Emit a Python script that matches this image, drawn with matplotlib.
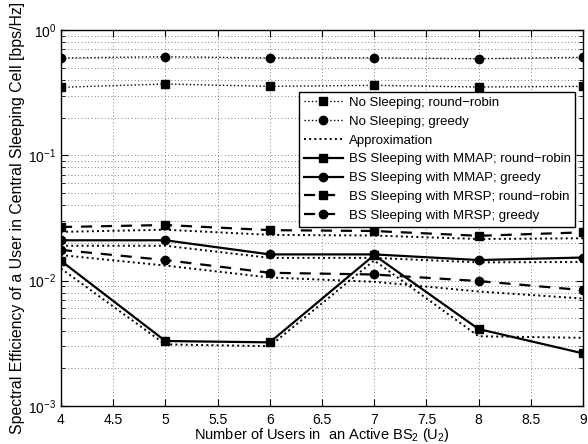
import matplotlib
matplotlib.use("Agg")
import matplotlib.pyplot as plt
from matplotlib.ticker import LogLocator, MultipleLocator, NullFormatter, FuncFormatter

plt.rcParams['font.family'] = ['Liberation Sans', 'DejaVu Sans']
plt.rcParams['mathtext.fontset'] = 'custom'
plt.rcParams['mathtext.rm'] = 'Liberation Sans'
plt.rcParams['mathtext.it'] = 'Liberation Sans'

users = [4, 5, 6, 7, 8, 9]
nosleep_rr = [0.349, 0.371, 0.355, 0.362, 0.351, 0.355]
nosleep_greedy = [0.598, 0.612, 0.598, 0.600, 0.590, 0.605]
mmap_rr = [0.0144, 0.0033, 0.00322, 0.0160, 0.00411, 0.00263]
mmap_greedy = [0.0210, 0.0210, 0.0162, 0.0162, 0.0146, 0.0153]
mrsp_rr = [0.0268, 0.0278, 0.0253, 0.0249, 0.0228, 0.0243]
mrsp_greedy = [0.0176, 0.0146, 0.01156, 0.0112, 0.00993, 0.0084]
approx_mmap_rr = [0.0125, 0.0031, 0.0030, 0.0145, 0.0036, 0.0035]
approx_mmap_greedy = [0.0190, 0.0190, 0.0152, 0.0152, 0.0140, 0.0141]
approx_mrsp_rr = [0.0245, 0.0255, 0.0232, 0.0229, 0.0215, 0.0218]
approx_mrsp_greedy = [0.0160, 0.0132, 0.0106, 0.0098, 0.0082, 0.0072]

fig = plt.figure(figsize=(5.88, 4.44), dpi=100)
ax = fig.add_axes([0.1037, 0.0856, 0.8878, 0.8468])

ms = 6
ax.plot(users, nosleep_rr, ':', color='k', lw=1.0, marker='s', ms=ms, label='No Sleeping; round\u2212robin')
ax.plot(users, nosleep_greedy, ':', color='k', lw=1.0, marker='o', ms=ms, label='No Sleeping; greedy')
ax.plot(users, approx_mmap_rr, ':', color='k', lw=1.4, label='Approximation')
ax.plot(users, approx_mmap_greedy, ':', color='k', lw=1.4)
ax.plot(users, approx_mrsp_rr, ':', color='k', lw=1.4)
ax.plot(users, approx_mrsp_greedy, ':', color='k', lw=1.4)
ax.plot(users, mmap_rr, '-', color='k', lw=1.6, marker='s', ms=ms, label='BS Sleeping with MMAP; round\u2212robin')
ax.plot(users, mmap_greedy, '-', color='k', lw=1.6, marker='o', ms=ms, label='BS Sleeping with MMAP; greedy')
ax.plot(users, mrsp_rr, color='k', lw=1.6, marker='s', ms=ms, dashes=(5, 4), label='BS Sleeping with MRSP; round\u2212robin')
ax.plot(users, mrsp_greedy, color='k', lw=1.6, marker='o', ms=ms, dashes=(5, 4), label='BS Sleeping with MRSP; greedy')

ax.set_yscale('log')
ax.set_xlim(4, 9)
ax.set_ylim(1e-3, 1)
ax.xaxis.set_major_locator(MultipleLocator(0.5))
ax.xaxis.set_major_formatter(FuncFormatter(lambda v, p: f'{v:g}'))
ax.yaxis.set_major_locator(LogLocator(base=10, numticks=10))
ax.yaxis.set_minor_locator(LogLocator(base=10, subs=range(2, 10), numticks=20))
ax.yaxis.set_minor_formatter(NullFormatter())
ax.tick_params(which='both', direction='in', top=True, right=True, labelsize=10)
ax.tick_params(axis='x', pad=5)
ax.tick_params(which='major', length=5)
ax.tick_params(which='minor', length=3)
gstyle = dict(linestyle=(0, (1, 3)), color='0.35', lw=0.6)
ax.grid(True, which='major', **gstyle)
ax.grid(True, which='minor', axis='y', **gstyle)
for s in ax.spines.values():
    s.set_linewidth(1.0)

ax.set_xlabel('Number of Users in  an Active BS$_2$ (U$_2$)', fontsize=10.5, labelpad=-1)
ax.set_ylabel('Spectral Efficiency of a User in Central Sleeping Cell [bps/Hz]', fontsize=11.4, labelpad=2)

leg = ax.legend(loc='upper right', bbox_to_anchor=(0.985, 0.835), fontsize=9.5, frameon=True,
                fancybox=False, edgecolor='k', framealpha=1, handlelength=3.0,
                borderpad=0.35, labelspacing=0.5, handletextpad=0.4, borderaxespad=0)
leg.get_frame().set_linewidth(1.0)

fig.savefig('out.png', dpi=100)
